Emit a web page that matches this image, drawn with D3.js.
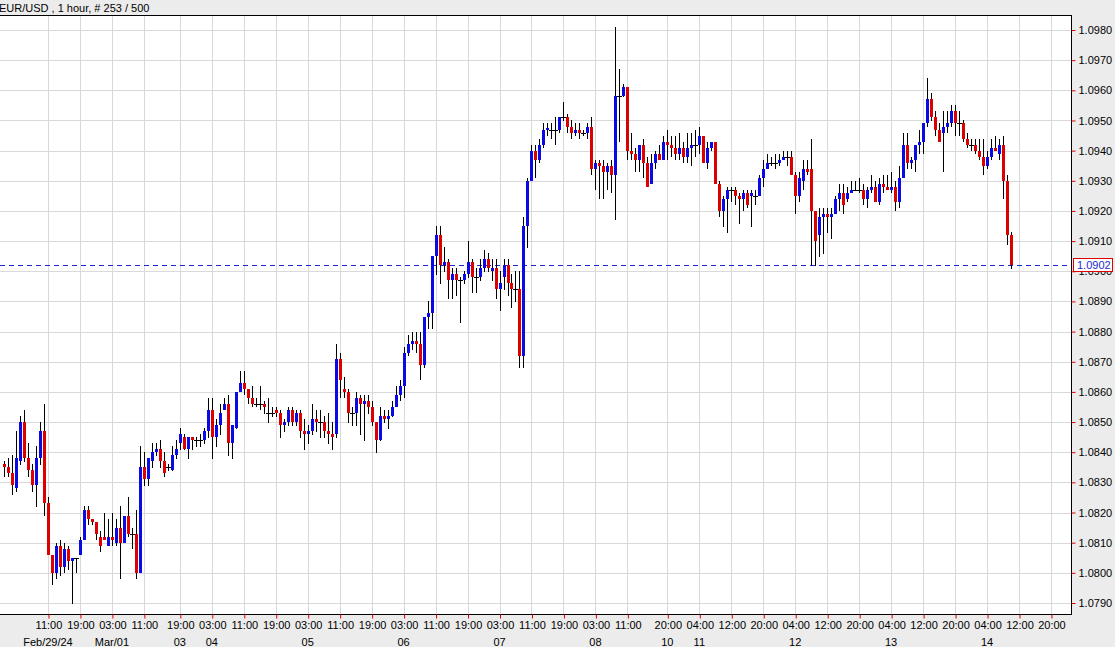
<!DOCTYPE html>
<html><head><meta charset="utf-8">
<script src="https://cdn.jsdelivr.net/npm/d3@7"></script>
<style>
html,body{margin:0;padding:0;background:#ececec;overflow:hidden}
svg{display:block;font-family:"Liberation Sans",Arial,Helvetica,sans-serif}
</style></head><body>
<svg id="c" width="1115" height="647"></svg>
<script>
const title = "EUR/USD , 1 hour, # 253 / 500";

const opens = [
1.0836,1.0835,1.0833,1.0828,1.0837,1.0850,1.0838,1.0834,1.0829,1.0838,
1.0847,1.0823,1.0806,1.0800,1.0809,1.0802,1.0808,1.0804,1.0805,1.0806,
1.0811,1.0821,1.0818,1.0817,1.0812,1.0812,1.0809,1.0812,1.0810,1.0815,
1.0810,1.0819,1.0813,1.0813,1.0800,1.0835,1.0831,1.0837,1.0840,1.0841,
1.0837,1.0835,1.0834,1.0839,1.0843,1.0845,1.0841,1.0845,1.0844,1.0844,
1.0844,1.0847,1.0854,1.0845,1.0849,1.0854,1.0856,1.0843,1.0848,1.0860,
1.0863,1.0861,1.0858,1.0856,1.0856,1.0856,1.0853,1.0853,1.0854,1.0853,
1.0849,1.0850,1.0854,1.0850,1.0853,1.0847,1.0846,1.0847,1.0851,1.0850,
1.0850,1.0847,1.0846,1.0846,1.0871,1.0861,1.0860,1.0853,1.0853,1.0858,
1.0856,1.0857,1.0855,1.0850,1.0844,1.0852,1.0851,1.0852,1.0855,1.0859,
1.0862,1.0873,1.0876,1.0877,1.0876,1.0869,1.0885,1.0886,1.0905,1.0912,
1.0902,1.0903,1.0897,1.0899,1.0897,1.0897,1.0899,1.0903,1.0898,1.0898,
1.0901,1.0904,1.0900,1.0901,1.0894,1.0898,1.0902,1.0896,1.0894,1.0894,
1.0872,1.0915,1.0930,1.0940,1.0937,1.0942,1.0947,1.0947,1.0947,1.0947,
1.0951,1.0951,1.0948,1.0946,1.0947,1.0946,1.0946,1.0948,1.0934,1.0936,
1.0935,1.0933,1.0935,1.0932,1.0958,1.0958,1.0961,1.0940,1.0939,1.0937,
1.0942,1.0936,1.0929,1.0936,1.0939,1.0937,1.0943,1.0942,1.0941,1.0939,
1.0941,1.0938,1.0941,1.0942,1.0942,1.0945,1.0936,1.0941,1.0943,1.0929,
1.0920,1.0924,1.0927,1.0927,1.0925,1.0924,1.0926,1.0925,1.0925,1.0925,
1.0931,1.0934,1.0936,1.0936,1.0936,1.0937,1.0938,1.0938,1.0932,1.0925,
1.0930,1.0934,1.0934,1.0920,1.0912,1.0918,1.0919,1.0918,1.0919,1.0924,
1.0926,1.0924,1.0926,1.0927,1.0927,1.0927,1.0924,1.0927,1.0928,1.0923,
1.0929,1.0928,1.0927,1.0928,1.0923,1.0931,1.0942,1.0936,1.0937,1.0942,
1.0943,1.0949,1.0957,1.0951,1.0947,1.0946,1.0948,1.0949,1.0953,1.0949,
1.0949,1.0944,1.0942,1.0942,1.0940,1.0938,1.0935,1.0938,1.0941,1.0939,
1.0942,1.0930,1.0912];

const highs = [
1.0837,1.0838,1.0839,1.0847,1.0852,1.0854,1.0843,1.0836,1.0842,1.0850,
1.0856,1.0825,1.0806,1.0810,1.0811,1.0810,1.0809,1.0805,1.0805,1.0812,
1.0822,1.0822,1.0818,1.0817,1.0814,1.0820,1.0818,1.0820,1.0818,1.0822,
1.0819,1.0825,1.0815,1.0821,1.0842,1.0840,1.0838,1.0843,1.0843,1.0844,
1.0840,1.0836,1.0842,1.0844,1.0848,1.0846,1.0845,1.0845,1.0845,1.0846,
1.0848,1.0858,1.0858,1.0851,1.0856,1.0858,1.0859,1.0849,1.0860,1.0867,
1.0867,1.0861,1.0862,1.0858,1.0862,1.0857,1.0858,1.0855,1.0855,1.0854,
1.0851,1.0855,1.0855,1.0854,1.0854,1.0851,1.0849,1.0856,1.0854,1.0854,
1.0852,1.0853,1.0850,1.0876,1.0873,1.0865,1.0861,1.0855,1.0860,1.0859,
1.0859,1.0859,1.0857,1.0850,1.0855,1.0854,1.0854,1.0857,1.0862,1.0864,
1.0875,1.0879,1.0880,1.0880,1.0880,1.0885,1.0890,1.0905,1.0915,1.0915,
1.0908,1.0904,1.0901,1.0901,1.0898,1.0900,1.0910,1.0904,1.0901,1.0904,
1.0907,1.0906,1.0904,1.0904,1.0900,1.0904,1.0904,1.0899,1.0900,1.0900,
1.0918,1.0931,1.0942,1.0942,1.0944,1.0949,1.0949,1.0949,1.0951,1.0951,
1.0956,1.0952,1.0950,1.0949,1.0949,1.0947,1.0949,1.0951,1.0937,1.0937,
1.0937,1.0936,1.0937,1.0981,1.0967,1.0962,1.0961,1.0946,1.0941,1.0942,
1.0944,1.0938,1.0939,1.0940,1.0942,1.0945,1.0947,1.0945,1.0945,1.0946,
1.0943,1.0946,1.0946,1.0947,1.0948,1.0945,1.0943,1.0943,1.0943,1.0930,
1.0925,1.0928,1.0928,1.0928,1.0926,1.0927,1.0927,1.0927,1.0927,1.0932,
1.0937,1.0939,1.0938,1.0939,1.0939,1.0940,1.0940,1.0940,1.0933,1.0933,
1.0937,1.0937,1.0944,1.0920,1.0921,1.0921,1.0921,1.0921,1.0925,1.0929,
1.0929,1.0928,1.0930,1.0930,1.0931,1.0929,1.0928,1.0932,1.0930,1.0931,
1.0932,1.0932,1.0933,1.0930,1.0935,1.0946,1.0946,1.0938,1.0942,1.0947,
1.0949,1.0964,1.0959,1.0953,1.0949,1.0953,1.0953,1.0955,1.0955,1.0953,
1.0950,1.0946,1.0944,1.0944,1.0944,1.0944,1.0940,1.0944,1.0945,1.0944,
1.0945,1.0932,1.0913];

const lows = [
1.0832,1.0832,1.0826,1.0827,1.0836,1.0837,1.0832,1.0827,1.0822,1.0836,
1.0819,1.0806,1.0796,1.0798,1.0799,1.0800,1.0801,1.0790,1.0800,1.0806,
1.0811,1.0816,1.0816,1.0811,1.0807,1.0811,1.0809,1.0809,1.0809,1.0798,
1.0810,1.0812,1.0808,1.0798,1.0800,1.0829,1.0829,1.0835,1.0839,1.0835,
1.0832,1.0834,1.0834,1.0838,1.0841,1.0841,1.0838,1.0841,1.0842,1.0842,
1.0843,1.0845,1.0838,1.0842,1.0846,1.0854,1.0839,1.0838,1.0848,1.0860,
1.0859,1.0856,1.0855,1.0855,1.0854,1.0853,1.0850,1.0852,1.0852,1.0845,
1.0847,1.0849,1.0849,1.0849,1.0845,1.0841,1.0843,1.0846,1.0847,1.0845,
1.0845,1.0843,1.0841,1.0845,1.0858,1.0858,1.0850,1.0849,1.0849,1.0846,
1.0844,1.0853,1.0849,1.0840,1.0844,1.0850,1.0848,1.0852,1.0855,1.0857,
1.0858,1.0872,1.0874,1.0873,1.0864,1.0868,1.0881,1.0881,1.0899,1.0896,
1.0900,1.0891,1.0891,1.0892,1.0883,1.0896,1.0898,1.0893,1.0893,1.0897,
1.0900,1.0900,1.0897,1.0891,1.0887,1.0894,1.0892,1.0888,1.0890,1.0868,
1.0868,1.0908,1.0930,1.0931,1.0936,1.0941,1.0945,1.0944,1.0942,1.0946,
1.0950,1.0946,1.0944,1.0945,1.0944,1.0945,1.0944,1.0932,1.0927,1.0924,
1.0924,1.0927,1.0926,1.0917,1.0943,1.0958,1.0937,1.0937,1.0933,1.0933,
1.0931,1.0928,1.0929,1.0934,1.0937,1.0937,1.0937,1.0938,1.0937,1.0937,
1.0936,1.0936,1.0935,1.0938,1.0939,1.0936,1.0934,1.0940,1.0929,1.0918,
1.0915,1.0913,1.0923,1.0922,1.0916,1.0920,1.0921,1.0915,1.0922,1.0925,
1.0928,1.0934,1.0935,1.0934,1.0935,1.0937,1.0935,1.0932,1.0919,1.0923,
1.0927,1.0932,1.0902,1.0902,1.0905,1.0906,1.0913,1.0911,1.0919,1.0920,
1.0919,1.0923,1.0926,1.0927,1.0926,1.0922,1.0921,1.0926,1.0923,1.0922,
1.0926,1.0927,1.0926,1.0920,1.0921,1.0931,1.0934,1.0934,1.0933,1.0939,
1.0939,1.0948,1.0950,1.0945,1.0943,1.0933,1.0946,1.0948,1.0945,1.0945,
1.0943,1.0941,1.0940,1.0939,1.0937,1.0932,1.0934,1.0937,1.0940,1.0937,
1.0924,1.0909,1.0901];

const closes = [
1.0835,1.0833,1.0829,1.0838,1.0850,1.0838,1.0834,1.0829,1.0838,1.0847,
1.0823,1.0806,1.0800,1.0809,1.0802,1.0808,1.0804,1.0805,1.0805,1.0811,
1.0821,1.0818,1.0817,1.0813,1.0809,1.0811,1.0812,1.0811,1.0815,1.0810,
1.0819,1.0813,1.0813,1.0800,1.0835,1.0831,1.0838,1.0840,1.0841,1.0837,
1.0833,1.0835,1.0839,1.0841,1.0846,1.0841,1.0845,1.0844,1.0844,1.0844,
1.0847,1.0854,1.0845,1.0849,1.0853,1.0856,1.0843,1.0849,1.0860,1.0863,
1.0861,1.0858,1.0856,1.0856,1.0856,1.0855,1.0853,1.0853,1.0853,1.0849,
1.0850,1.0854,1.0850,1.0853,1.0847,1.0846,1.0847,1.0851,1.0850,1.0850,
1.0847,1.0846,1.0845,1.0871,1.0864,1.0860,1.0853,1.0853,1.0858,1.0856,
1.0857,1.0855,1.0850,1.0844,1.0852,1.0851,1.0852,1.0855,1.0859,1.0862,
1.0873,1.0876,1.0877,1.0876,1.0869,1.0885,1.0886,1.0905,1.0912,1.0902,
1.0903,1.0897,1.0899,1.0897,1.0897,1.0899,1.0903,1.0898,1.0898,1.0901,
1.0904,1.0901,1.0901,1.0894,1.0896,1.0902,1.0896,1.0894,1.0894,1.0872,
1.0915,1.0930,1.0940,1.0937,1.0942,1.0947,1.09475,1.0947,1.0947,1.0951,
1.0951,1.0948,1.0946,1.0947,1.0946,1.0946,1.0948,1.0934,1.0936,1.0935,
1.0933,1.0935,1.0932,1.0958,1.0958,1.0961,1.0940,1.0939,1.0937,1.0942,
1.0936,1.0928,1.0936,1.0939,1.0937,1.0943,1.0942,1.0941,1.0939,1.0941,
1.0938,1.0941,1.0942,1.0942,1.0945,1.0936,1.0941,1.0943,1.0929,1.0920,
1.0924,1.0927,1.0927,1.0925,1.0924,1.0926,1.0922,1.0926,1.0925,1.0931,
1.0934,1.0936,1.0936,1.0936,1.0937,1.0938,1.0938,1.0932,1.0925,1.0931,
1.0934,1.0933,1.0920,1.0910,1.0918,1.0919,1.0918,1.0919,1.0924,1.0926,
1.0922,1.0926,1.0927,1.0927,1.0927,1.0924,1.0927,1.0928,1.0923,1.0929,
1.0928,1.0927,1.0928,1.0923,1.0931,1.0942,1.0936,1.0937,1.0942,1.0943,
1.0949,1.0957,1.0951,1.0947,1.0943,1.0948,1.0949,1.0953,1.0949,1.0949,
1.0944,1.0942,1.0942,1.0940,1.0938,1.0935,1.0938,1.0941,1.0940,1.0942,
1.0930,1.0912,1.0902];

const priceTicks = [1.0790,1.0800,1.0810,1.0820,1.0830,1.0840,1.0850,1.0860,1.0870,1.0880,
  1.0890,1.0900,1.0910,1.0920,1.0930,1.0940,1.0950,1.0960,1.0970,1.0980];

const timeTickIndex = [11,19,27,35,44,52,60,68,76,84,92,100,108,116,124,132,140,148,156,
  166,174,182,190,198,206,214,222,230,238,246,254,262];
const timeTickLabels = ["11:00","19:00","03:00","11:00","19:00","03:00","11:00","19:00","03:00",
  "11:00","19:00","03:00","11:00","19:00","03:00","11:00","19:00","03:00","11:00",
  "20:00","04:00","12:00","20:00","04:00","12:00","20:00","04:00","12:00","20:00","04:00","12:00","20:00"];
const dayIndex = [11,27,44,52,76,100,124,148,166,174,198,222,246];
const dayLabels = ["Feb/29/24","Mar/01","03","04","05","06","07","08","10","11","12","13","14"];
const lastPrice = 1.0902;

const W = 1115, H = 647;
const P = {left: 0, right: 1071, top: 15, bottom: 614};
const BLUE = "#0a0ae6", RED = "#dc0000", GRID = "#d9d9d9";

const x = d3.scaleLinear().domain([0, 252]).range([4, 1011]);
const y = d3.scaleLinear().domain([1.0790, 1.0980]).range([603, 30]);

const svg = d3.select("#c");
svg.append("rect").attr("width", W).attr("height", H).attr("fill", "#ececec");
svg.append("rect").attr("x", P.left).attr("y", P.top)
  .attr("width", P.right - P.left).attr("height", P.bottom - P.top).attr("fill", "#ffffff");

// title
svg.append("text").attr("x", -1).attr("y", 11.5).attr("font-size", 11).attr("fill", "#000")
  .text(title);

// gridlines
const grid = svg.append("g").attr("shape-rendering", "crispEdges");
grid.selectAll("line.h").data(priceTicks).join("line").attr("class", "h")
  .attr("x1", P.left).attr("x2", P.right)
  .attr("y1", d => Math.round(y(d)) + 0.5).attr("y2", d => Math.round(y(d)) + 0.5)
  .attr("stroke", GRID);
grid.selectAll("line.v").data(timeTickIndex).join("line").attr("class", "v")
  .attr("y1", P.top).attr("y2", P.bottom)
  .attr("x1", d => Math.round(x(d)) + 0.5).attr("x2", d => Math.round(x(d)) + 0.5)
  .attr("stroke", GRID);

// last price dashed line
svg.append("line").attr("x1", P.left).attr("x2", P.right)
  .attr("y1", Math.round(y(lastPrice)) + 0.5).attr("y2", Math.round(y(lastPrice)) + 0.5)
  .attr("stroke", "#1e28d2").attr("stroke-dasharray", "5,4").attr("shape-rendering", "crispEdges");

// candles
const idx = d3.range(opens.length);
const cg = svg.append("g").attr("shape-rendering", "crispEdges");
cg.selectAll("line.w").data(idx).join("line").attr("class", "w")
  .attr("x1", i => Math.round(x(i)) + 0.5).attr("x2", i => Math.round(x(i)) + 0.5)
  .attr("y1", i => y(highs[i])).attr("y2", i => y(lows[i]) + 0.5)
  .attr("stroke", "#000").attr("stroke-width", 1);
cg.selectAll("rect.b").data(idx).join("rect").attr("class", "b")
  .attr("x", i => opens[i] === closes[i] ? Math.round(x(i)) - 2 : Math.round(x(i)) - 1)
  .attr("width", i => opens[i] === closes[i] ? 5 : 3)
  .attr("y", i => Math.round(y(Math.max(opens[i], closes[i]))))
  .attr("height", i => Math.max(1, Math.round(y(Math.min(opens[i], closes[i]))) - Math.round(y(Math.max(opens[i], closes[i])))))
  .attr("fill", i => closes[i] > opens[i] ? BLUE : (closes[i] < opens[i] ? RED : "#000"));

// border
svg.append("path")
  .attr("d", `M${P.left},${P.top + 0.5}H${P.right + 0.5}V${P.bottom + 0.5}H${P.left}`)
  .attr("fill", "none").attr("stroke", "#000").attr("shape-rendering", "crispEdges");

// right axis
const yAxis = d3.axisRight(y).tickValues(priceTicks).tickSize(4).tickPadding(3)
  .tickFormat(d3.format(".4f"));
const ya = svg.append("g").attr("transform", `translate(${P.right + 0.5},0)`).call(yAxis);
ya.select(".domain").remove();
ya.selectAll(".tick line").attr("stroke", "#e00000");
ya.selectAll(".tick text").attr("font-size", 11).attr("fill", "#000")
  .attr("font-family", '"Liberation Sans",Arial,sans-serif');

// bottom axis
const xAxis = d3.axisBottom(x).tickValues(timeTickIndex).tickSize(4).tickPadding(3)
  .tickFormat((d, i) => timeTickLabels[i]);
const xa = svg.append("g").attr("transform", `translate(0.5,${P.bottom + 0.5})`).call(xAxis);
xa.select(".domain").remove();
xa.selectAll(".tick line").attr("stroke", "#e00000");
xa.selectAll(".tick text").attr("font-size", 11).attr("fill", "#000")
  .attr("font-family", '"Liberation Sans",Arial,sans-serif');

// day labels
svg.append("g").selectAll("text").data(dayIndex).join("text")
  .attr("x", d => x(d)).attr("y", 645.5).attr("text-anchor", "middle")
  .attr("font-size", 11).attr("fill", "#000")
  .text((d, i) => dayLabels[i]);

// last price label
const ly = y(lastPrice);
svg.append("rect").attr("x", P.right + 2.5).attr("y", Math.round(ly) - 6.5)
  .attr("width", 39).attr("height", 13).attr("fill", "#fff").attr("stroke", "#e00000");
svg.append("text").attr("x", P.right + 6).attr("y", ly + 4).attr("font-size", 11)
  .attr("fill", "#1e28d2").text(d3.format(".4f")(lastPrice));
</script>
</body></html>
